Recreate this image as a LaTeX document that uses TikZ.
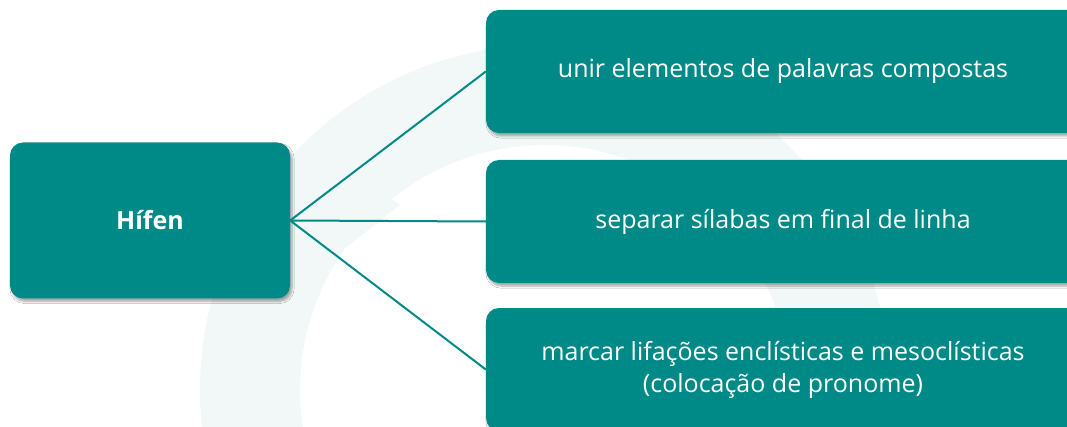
\documentclass[tikz,border=0pt]{standalone}
\usepackage{fontspec}
\setmainfont{Open Sans}
\usetikzlibrary{shadows.blur}
\definecolor{teal1}{HTML}{008A87}
\definecolor{wm}{HTML}{F1F8F7}
\begin{document}
\begin{tikzpicture}[x=1pt,y=-1pt,
  box/.style={fill=teal1, draw=none, rounded corners=13pt, text=white,
    align=center, inner sep=0pt,
    blur shadow={shadow xshift=2pt, shadow yshift=-3pt, shadow opacity=35, shadow blur steps=6}},
  rbox/.style={box, minimum width=594pt, minimum height=123pt, font=\fontsize{25}{32}\selectfont},
  conn/.style={draw=teal1, line width=2pt}]
\useasboundingbox (0,0) rectangle (1067,427);
\clip (0,0) rectangle (1067,427);
\fill[white] (0,0) rectangle (1067,427);
% faint watermark
\fill[wm, even odd rule] (545,390) circle (345pt) (545,390) circle (245pt);
\fill[wm] (323,150) -- (400,205) -- (330,260) -- (290,230) -- cycle;
% nodes
\node[box, minimum width=280pt, minimum height=156pt, font=\bfseries\fontsize{25}{30}\selectfont] (hif) at (150,220.5) {Hífen};
\node[rbox] (a) at (783,71.5) {unir elementos de palavras compostas};
\node[rbox] (b) at (783,221.5) {separar sílabas em final de linha};
\node[rbox] (c) at (783,369.5) {marcar lifações enclísticas e mesoclísticas\\(colocação de pronome)};
% connectors
\draw[conn] (hif.east) -- (a.west);
\draw[conn] (hif.east) -- (b.west);
\draw[conn] (hif.east) -- (c.west);
\end{tikzpicture}
\end{document}
